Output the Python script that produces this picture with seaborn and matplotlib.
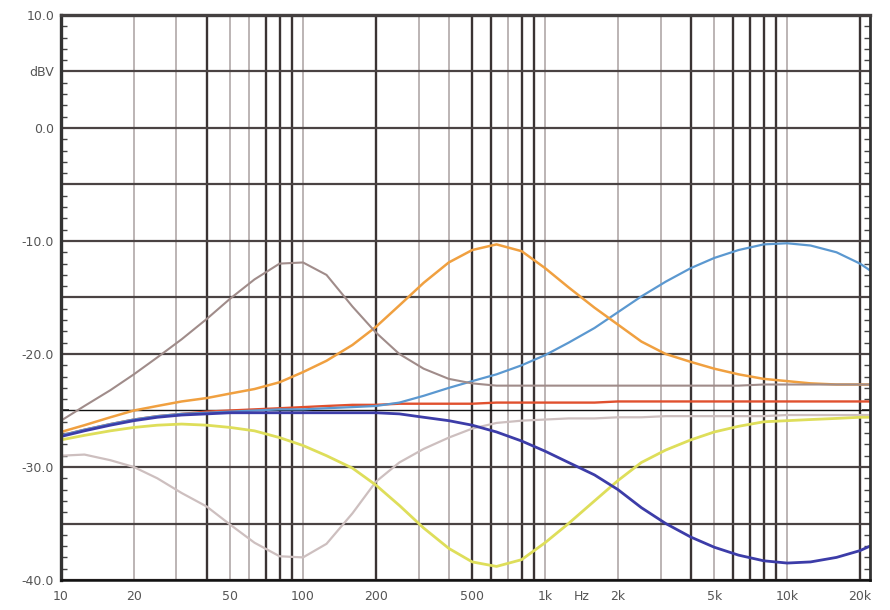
import matplotlib
matplotlib.use("Agg")
import matplotlib.pyplot as plt
import seaborn as sns
import pandas as pd
from matplotlib.ticker import FixedLocator, FixedFormatter, MultipleLocator

# ---- data ----
freqs = [10, 12.5, 16, 20, 25, 31.5, 40, 50, 63, 80,
         100, 125, 160, 200, 250, 315, 400, 500, 630, 800,
         1000, 1250, 1600, 2000, 2500, 3150, 4000, 5000, 6300, 8000,
         10000, 12500, 16000, 20000, 22000]

grey_dip = [-29.0, -28.9, -29.4, -30.0, -31.0, -32.3, -33.5, -35.1, -36.7, -37.9,
            -38.0, -36.8, -34.1, -31.3, -29.6, -28.4, -27.4, -26.6, -26.1, -25.9,
            -25.8, -25.7, -25.7, -25.6, -25.6, -25.5, -25.5, -25.5, -25.5, -25.5,
            -25.4, -25.4, -25.4, -25.4, -25.4]
yellow_dip = [-27.6, -27.2, -26.8, -26.5, -26.3, -26.2, -26.3, -26.5, -26.8, -27.4,
              -28.1, -29.0, -30.1, -31.6, -33.4, -35.4, -37.2, -38.4, -38.8, -38.2,
              -36.7, -35.0, -33.0, -31.2, -29.6, -28.5, -27.6, -26.9, -26.4, -26.0,
              -25.9, -25.8, -25.7, -25.6, -25.6]
blue_dip = [-27.3, -26.8, -26.3, -25.9, -25.6, -25.4, -25.3, -25.2, -25.2, -25.2,
            -25.2, -25.2, -25.2, -25.2, -25.3, -25.6, -25.9, -26.3, -26.9, -27.7,
            -28.6, -29.6, -30.7, -32.0, -33.6, -35.0, -36.2, -37.1, -37.8, -38.3,
            -38.5, -38.4, -38.0, -37.4, -37.0]
red_flat = [-27.2, -26.7, -26.2, -25.8, -25.5, -25.3, -25.1, -25.0, -24.9, -24.8,
            -24.7, -24.6, -24.5, -24.5, -24.4, -24.4, -24.4, -24.4, -24.3, -24.3,
            -24.3, -24.3, -24.3, -24.2, -24.2, -24.2, -24.2, -24.2, -24.2, -24.2,
            -24.2, -24.2, -24.2, -24.2, -24.2]
lightblue_peak = [-27.2, -26.7, -26.2, -25.8, -25.5, -25.3, -25.2, -25.1, -25.0, -24.9,
                  -24.9, -24.8, -24.7, -24.6, -24.3, -23.7, -23.0, -22.4, -21.8, -21.0,
                  -20.1, -19.0, -17.7, -16.3, -14.9, -13.6, -12.4, -11.5, -10.8, -10.3,
                  -10.2, -10.4, -11.0, -12.0, -12.6]
orange_peak = [-26.9, -26.3, -25.6, -25.0, -24.6, -24.2, -23.9, -23.5, -23.1, -22.5,
               -21.6, -20.6, -19.2, -17.6, -15.7, -13.7, -11.9, -10.8, -10.3, -10.9,
               -12.4, -14.1, -15.9, -17.4, -18.9, -20.0, -20.7, -21.3, -21.8, -22.2,
               -22.4, -22.6, -22.7, -22.7, -22.7]
brown_peak = [-25.9, -24.6, -23.2, -21.8, -20.3, -18.7, -16.9, -15.1, -13.4, -12.0,
              -11.9, -13.0, -15.8, -18.1, -20.0, -21.3, -22.2, -22.6, -22.8, -22.8,
              -22.8, -22.8, -22.8, -22.8, -22.8, -22.8, -22.8, -22.8, -22.8, -22.7,
              -22.7, -22.7, -22.7, -22.7, -22.7]

curve_names = ["grey", "yellow", "red", "lightblue", "darkblue", "orange", "brown"]
curve_values = [grey_dip, yellow_dip, red_flat, lightblue_peak, blue_dip, orange_peak, brown_peak]
curve_colors = ["#cdbfbf", "#dede5a", "#e0502e", "#5b98d0", "#3c3ca8", "#f0a040", "#a08c8a"]
curve_widths = [1.6, 2.0, 1.7, 1.6, 2.0, 1.8, 1.5]

ytick_vals = [-40, -35, -30, -25, -20, -15, -10, -5, 0, 5, 10]
ytick_labels = ["-40.0", "", "-30.0", "", "-20.0", "", "-10.0", "", "0.0", "dBV", "10.0"]
xtick_vals = [10, 20, 50, 100, 200, 500, 1000, 1420, 2000, 5000, 10000, 20000]
xtick_labels = ["10", "20", "50", "100", "200", "500", "1k", "Hz", "2k", "5k", "10k", "20k"]

grid_dark = [40, 70, 80, 90, 200, 500, 600, 800, 900, 4000, 6000, 7000, 8000, 9000, 20000]
grid_light = [20, 30, 50, 60, 100, 300, 400, 700, 1000, 2000, 3000, 5000, 10000]

# ---- plot ----
sns.set_theme(style="white")
plt.rcParams['font.family'] = ['DejaVu Sans']

fig = plt.figure(figsize=(8.9, 6.1), dpi=100)
ax = fig.add_axes([61/890, 1 - 580/610, (870 - 61)/890, (580 - 15)/610])
ax.set_xscale("log")

for f in grid_light:
    ax.axvline(f, color="#a9a1a1", lw=1.1, zorder=1)
for f in grid_dark:
    ax.axvline(f, color="#3a3333", lw=1.7, zorder=1)
for yv in ytick_vals:
    if yv == -25:
        ax.axhline(yv, color="#111111", lw=1.0, zorder=1)
    else:
        ax.axhline(yv, color="#4a4343", lw=1.6, zorder=1)

for name, vals, col, lw in zip(curve_names, curve_values, curve_colors, curve_widths):
    df = pd.DataFrame({"freq": freqs, "level": vals})
    sns.lineplot(data=df, x="freq", y="level", color=col, lw=lw, ax=ax, zorder=3)

ax.set_xlim(10, 22000)
ax.set_ylim(-40, 10)
ax.set_xlabel("")
ax.set_ylabel("")

ax.xaxis.set_major_locator(FixedLocator(xtick_vals))
ax.xaxis.set_major_formatter(FixedFormatter(xtick_labels))
ax.xaxis.set_minor_locator(FixedLocator([]))
ax.tick_params(axis="x", which="both", length=0, pad=7, labelsize=9, labelcolor="#555555")

ax.yaxis.set_major_locator(FixedLocator(ytick_vals))
ax.yaxis.set_major_formatter(FixedFormatter(ytick_labels))
ax.yaxis.set_minor_locator(MultipleLocator(1))
ax.tick_params(axis="y", which="major", direction="in", length=6, width=1.2,
               color="#333333", left=True, right=True, pad=5, labelsize=9,
               labelcolor="#555555")
ax.tick_params(axis="y", which="minor", direction="in", length=4, width=1.0,
               color="#444444", left=True, right=True)

for side, lw, col in [("left", 2.4, "#333333"), ("right", 2.0, "#333333"),
                      ("top", 2.4, "#444040"), ("bottom", 1.8, "#111111")]:
    ax.spines[side].set_visible(True)
    ax.spines[side].set_linewidth(lw)
    ax.spines[side].set_color(col)
    ax.spines[side].set_zorder(4)

fig.savefig("out.png", dpi=100, facecolor="white")
